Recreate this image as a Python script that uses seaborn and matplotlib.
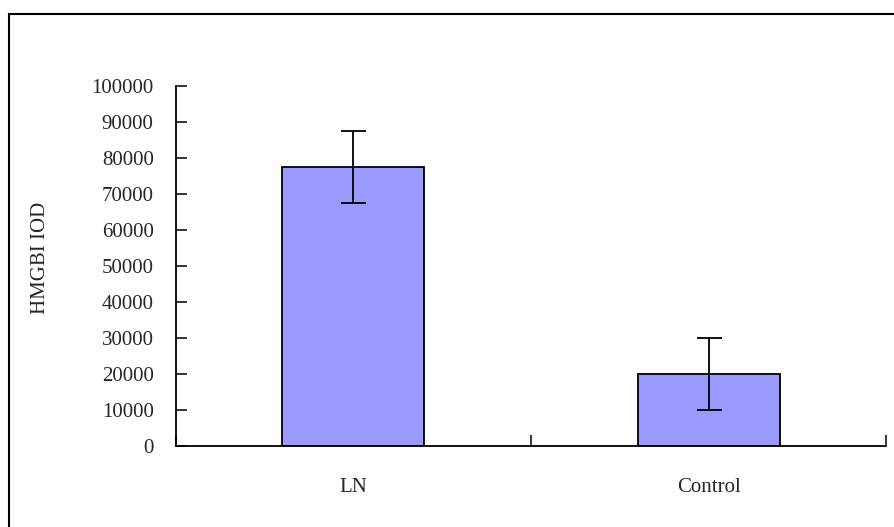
import matplotlib
matplotlib.use('Agg')
import matplotlib.pyplot as plt
import seaborn as sns
import pandas as pd
from matplotlib.patches import Rectangle

groups = ['LN', 'Control']
iod_mean = [77500, 20000]
iod_err = [10000, 10000]
yticks = list(range(0, 100001, 10000))

df = pd.DataFrame({'group': groups, 'iod': iod_mean})

sns.set_style('white')
plt.rcParams['font.family'] = ['Liberation Serif', 'DejaVu Serif']
plt.rcParams['font.size'] = 15

fig = plt.figure(figsize=(8.95, 5.27), dpi=100)
ax = fig.add_axes([0.1966, 0.1537, 0.7934, 0.6831])

sns.barplot(data=df, x='group', y='iod', color='#9999FF', saturation=1,
            width=0.4, edgecolor='black', linewidth=1.3, errorbar=None, ax=ax)

# error bars centred on the bars
centers = [p.get_x() + p.get_width() / 2 for p in ax.patches]
ax.errorbar(centers, iod_mean, yerr=iod_err, fmt='none', ecolor='black',
            elinewidth=1.3, capsize=9, capthick=1.3)

ax.set_xlim(-0.5, 1.5)
ax.set_ylim(0, 100000)
ax.set_yticks(yticks)
ax.set_yticklabels([str(t) for t in yticks])
ax.set_xticks([0, 1])
ax.set_xticklabels(groups)
ax.set_xticks([-0.5, 0.5, 1.5], minor=True)
ax.tick_params(axis='x', which='major', length=0, pad=23, labelsize=15)
ax.tick_params(axis='x', which='minor', direction='in', length=8, width=1.3,
               bottom=True)
ax.tick_params(axis='y', direction='in', length=8, width=1.3, left=True,
               pad=16, labelsize=15)

for s in ['top', 'right']:
    ax.spines[s].set_visible(False)
for s in ['left', 'bottom']:
    ax.spines[s].set_linewidth(1.3)
    ax.spines[s].set_color('black')

ax.set_xlabel('')
ax.set_ylabel('HMGBI IOD', fontsize=15)
ax.yaxis.set_label_coords(-0.178, 0.522)

# outer frame of the chart area
fig.patches.append(Rectangle((0.0101, -0.1), 1.2, 1.0734, transform=fig.transFigure,
                             fill=False, edgecolor='black', linewidth=1.5))

fig.savefig('out.png', dpi=100)
